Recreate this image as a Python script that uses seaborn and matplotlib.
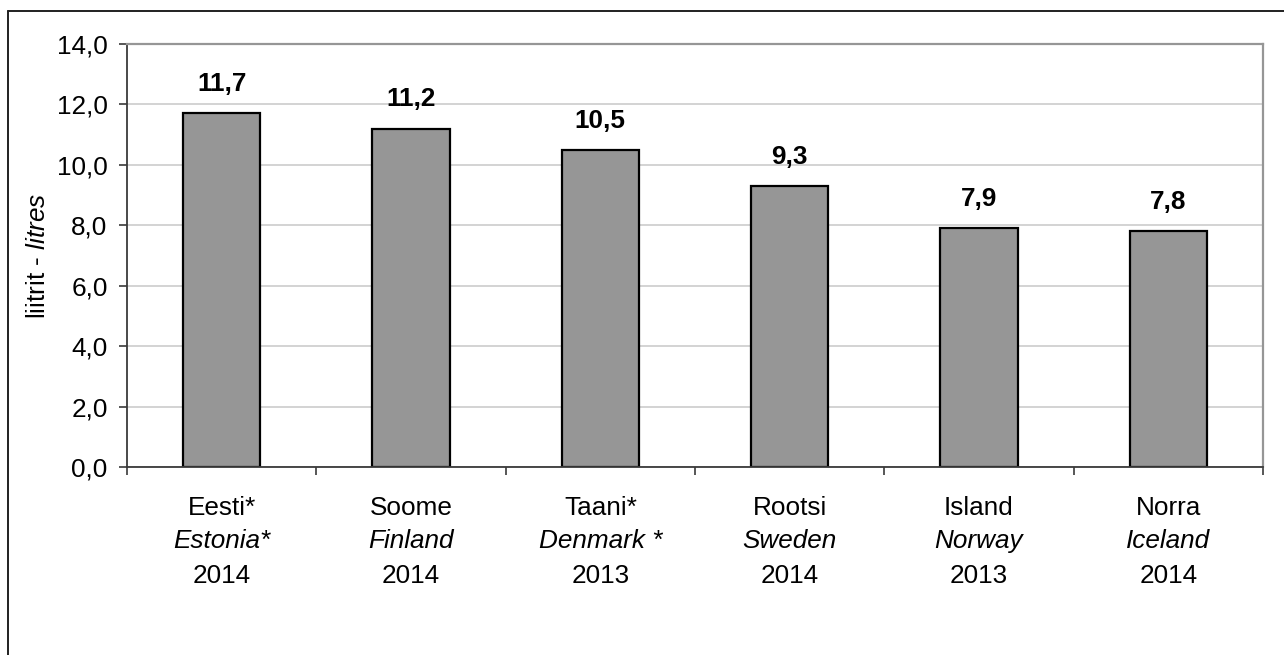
import matplotlib
matplotlib.use("Agg")
import matplotlib.pyplot as plt
from matplotlib.lines import Line2D
from matplotlib.ticker import FuncFormatter, MultipleLocator
import seaborn as sns

# Alcohol consumption per capita (litres)
names_et = ["Eesti*", "Soome", "Taani*", "Rootsi", "Island", "Norra"]
names_en = ["Estonia*", "Finland", "Denmark *", "Sweden", "Norway", "Iceland"]
years = ["2014", "2014", "2013", "2014", "2013", "2014"]
litres = [11.7, 11.2, 10.5, 9.3, 7.9, 7.8]

sns.set_theme(style="white")
plt.rcParams["font.family"] = ["Liberation Sans", "DejaVu Sans"]
plt.rcParams["mathtext.fontset"] = "custom"
plt.rcParams["mathtext.rm"] = "Liberation Sans"
plt.rcParams["mathtext.it"] = "Liberation Sans:italic"

FS = 18.8

fig = plt.figure(figsize=(12.84, 6.55), dpi=100)
ax = fig.add_axes([127 / 1284, 1 - 467 / 655, 1136 / 1284, 423 / 655])

sns.barplot(x=names_et, y=litres, color="#969696", edgecolor="black",
            linewidth=1.6, width=0.41, saturation=1, ax=ax)

ax.set_xlim(-0.5, len(names_et) - 0.5)
ax.set_ylim(0, 14)
ax.yaxis.set_major_locator(MultipleLocator(2))
ax.yaxis.set_major_formatter(FuncFormatter(lambda v, _: f"{v:.1f}".replace(".", ",")))
ax.grid(axis="y", color="#c8c8c8", linewidth=1.1)
ax.set_axisbelow(True)

for side in ("top", "right"):
    ax.spines[side].set_color("#969696")
    ax.spines[side].set_linewidth(1.6)
for side in ("left", "bottom"):
    ax.spines[side].set_color("#3a3a3a")
    ax.spines[side].set_linewidth(1.3)

ax.tick_params(axis="y", which="major", left=True, length=6, width=1.2,
               color="#3a3a3a", pad=8, labelsize=FS, labelcolor="black")

# category boundaries get the x ticks; the labels sit under each bar
ax.set_xticks(range(len(names_et)))
ax.set_xticklabels([])
ax.tick_params(axis="x", which="major", length=0)
ax.set_xticks([i - 0.5 for i in range(len(names_et) + 1)], minor=True)
ax.tick_params(axis="x", which="minor", bottom=True, length=6, width=1.2,
               color="#3a3a3a")

for i, (et, en, yr) in enumerate(zip(names_et, names_en, years)):
    for txt, off, style in ((et, 34.6, "normal"), (en, 58.3, "italic"), (yr, 83.5, "normal")):
        ax.annotate(txt, xy=(i, 0), xycoords=("data", "axes fraction"),
                    xytext=(0, -off), textcoords="offset points",
                    ha="center", va="baseline", fontsize=FS, style=style,
                    color="black", annotation_clip=False)

for i, v in enumerate(litres):
    ax.annotate(f"{v:.1f}".replace(".", ","), xy=(i, v),
                xytext=(0, 16), textcoords="offset points",
                ha="center", va="baseline", fontsize=FS, fontweight="bold",
                color="black")

ax.set_xlabel("")
ax.set_ylabel("")
ax.text(-0.078, 0.5, r"liitrit - $\it{litres}$", transform=ax.transAxes,
        rotation=90, ha="center", va="center", fontsize=FS, color="black")

# frame around the chart
x0, y0 = 8 / 1284, 1 - 11 / 655
fig.add_artist(Line2D([x0, 1.0], [y0, y0], transform=fig.transFigure,
                      color="#202020", linewidth=1.4))
fig.add_artist(Line2D([x0, x0], [y0, 0.0], transform=fig.transFigure,
                      color="#202020", linewidth=1.4))

fig.savefig("out.png", dpi=100, facecolor="white")
